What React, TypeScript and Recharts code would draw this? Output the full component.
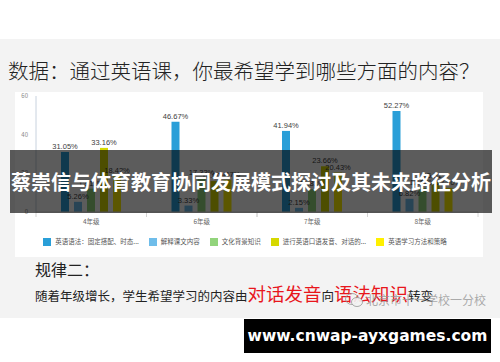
import { Bar, BarChart, LabelList, Legend, XAxis, YAxis } from "recharts"

// grades on the x axis
const grades = ["4年级", "6年级", "7年级", "8年级"]

// share of students (%) per answer, one array per series
const grammar = [31.05, 46.67, 41.94, 52.27]
const textExplain = [5.26, 3.33, 2.15, 6.82]
const culture = [12.11, 17.33, 11.83, 12.5]
const oral = [33.16, 16.0, 23.66, 15.91]
const method = [18.42, 16.67, 20.43, 12.5]

const seriesNames = [
  "英语语法：固定搭配、时态...",
  "解释课文内容",
  "文化背景知识",
  "进行英语口语发音、对话的...",
  "英语学习方法和策略",
]
const seriesColors = ["#2a9fd8", "#6fbdea", "#92d47c", "#d6d800", "#fff000"]
const yTicks = [0, 20, 40, 60]

const data = grades.map((g, i) => ({
  grade: g,
  s0: grammar[i],
  s1: textExplain[i],
  s2: culture[i],
  s3: oral[i],
  s4: method[i],
}))

const CHART_W = 500
const CHART_H = 362
const MARGIN = { top: 96, right: 22, left: 6, bottom: 134 }
const Y_AXIS_W = 30
const PLOT_W = CHART_W - MARGIN.left - MARGIN.right - Y_AXIS_W

const cjk = '"Noto Sans CJK SC", "Noto Sans", sans-serif'

function GradeTick(props: any) {
  const { x, y, payload } = props
  const half = PLOT_W / grades.length / 2
  return (
    <g>
      <line x1={x - half} x2={x - half} y1={y} y2={y + 5} stroke="#d4d4d4" />
      <line x1={x + half} x2={x + half} y1={y} y2={y + 5} stroke="#d4d4d4" />
      <text x={x} y={y + 9} textAnchor="middle" dominantBaseline="central" fontSize={6.5} fill="#666" fontFamily={cjk}>
        {payload.value}
      </text>
    </g>
  )
}

export default function App() {
  return (
    <div style={{ position: "absolute", left: 0, top: 0, width: 500, height: 362, background: "#fff", overflow: "hidden", fontFamily: cjk }}>
      {/* slide background */}
      <div style={{ position: "absolute", left: 0, top: 39, width: 500, height: 279, background: "#f3f3f3" }} />
      <div style={{ position: "absolute", left: 8, top: 58, fontSize: 20.5, fontWeight: 300, color: "#222", whiteSpace: "nowrap", lineHeight: "24px" }}>
        数据：通过英语课，你最希望学到哪些方面的内容？
      </div>
      <div style={{ position: "absolute", left: 15, top: 92, width: 468, height: 165, background: "#fff" }} />

      <div style={{ position: "absolute", left: 0, top: 0 }}>
        <BarChart width={CHART_W} height={CHART_H} data={data} margin={MARGIN} barGap={5}>
          <YAxis
            width={Y_AXIS_W}
            domain={[0, 60]}
            ticks={yTicks}
            tickLine={false}
            tickSize={6}
            tickMargin={2}
            axisLine={{ stroke: "#c8d2de" }}
            tick={{ fontSize: 6, fill: "#888", fontFamily: cjk }}
          />
          <XAxis
            dataKey="grade"
            tickLine={false}
            tickSize={0}
            tickMargin={0}
            height={16}
            axisLine={{ stroke: "#d4d4d4" }}
            tick={<GradeTick />}
            interval={0}
          />
          <Legend
            layout="horizontal"
            verticalAlign="middle"
            align="center"
            iconType="square"
            iconSize={8}
            itemSorter="dataKey"
            wrapperStyle={{ top: 236, left: 0, width: 500, fontSize: 6.5, fontFamily: cjk }}
            formatter={(value: string) => <span style={{ color: "#555" }}>{value}</span>}
          />
          {seriesNames.map((name, i) => (
            <Bar key={name} dataKey={`s${i}`} name={name} fill={seriesColors[i]} barSize={8} isAnimationActive={false}>
              <LabelList
                dataKey={`s${i}`}
                position="top"
                offset={3}
                fontSize={7.5}
                fill="#404040"
                fontFamily="'Liberation Sans', sans-serif"
                formatter={(v: any) => `${Number(v).toFixed(2)}%`}
              />
            </Bar>
          ))}
        </BarChart>
      </div>

      {/* overlay banner */}
      <div
        style={{
          position: "absolute",
          left: 10,
          top: 150,
          width: 482,
          height: 63,
          background: "rgba(0,0,0,0.64)",
          color: "#fff",
          fontSize: 20,
          fontWeight: 700,
          display: "flex",
          alignItems: "center",
          justifyContent: "center",
          whiteSpace: "nowrap",
        }}
      >
        蔡崇信与体育教育协同发展模式探讨及其未来路径分析
      </div>

      <div style={{ position: "absolute", left: 35, top: 259, fontSize: 16, color: "#222", lineHeight: "20px" }}>规律二：</div>
      <div style={{ position: "absolute", left: 35, top: 281, color: "#222", whiteSpace: "nowrap", lineHeight: "24px" }}>
        <span style={{ fontSize: 12.5 }}>随着年级增长，学生希望学习的内容由</span>
        <span style={{ fontSize: 18.5, color: "#e8161c" }}>对话发音</span>
        <span style={{ fontSize: 12.5 }}>向</span>
        <span style={{ fontSize: 18.5, color: "#e8161c" }}>语法知识</span>
        <span style={{ fontSize: 12.5 }}>转变</span>
      </div>
      {/* watermark */}
      <div style={{ position: "absolute", left: 344, top: 291, display: "flex", alignItems: "center", color: "rgba(150,150,150,0.8)", fontSize: 12, whiteSpace: "nowrap" }}>
        <svg width={20} height={16}>
          <ellipse cx={8} cy={7} rx={6.5} ry={5.5} fill="none" stroke="rgba(150,150,150,0.8)" strokeWidth={1} />
          <ellipse cx={13} cy={10} rx={5.5} ry={4.5} fill="rgba(243,243,243,0.9)" stroke="rgba(150,150,150,0.8)" strokeWidth={1} />
        </svg>
        <span style={{ marginLeft: 2 }}>北京市十一学校一分校</span>
      </div>

      {/* site stamp */}
      <div
        style={{
          position: "absolute",
          left: 244,
          top: 319,
          width: 247,
          height: 34,
          background: "#000",
          color: "#fff",
          fontFamily: '"DejaVu Sans", sans-serif',
          fontWeight: 700,
          fontSize: 15.5,
          display: "flex",
          alignItems: "center",
          justifyContent: "center",
        }}
      >
        www.cnwap-ayxgames.com
      </div>
    </div>
  )
}
